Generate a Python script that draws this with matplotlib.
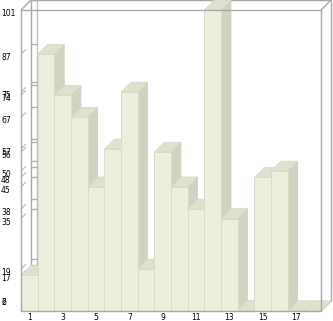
import matplotlib
matplotlib.use("Agg")
import matplotlib.pyplot as plt
from matplotlib import transforms

# data
categories = list(range(1, 19))
values = [17, 87, 74, 67, 45, 57, 75, 19, 56, 45, 38, 101, 35, 6, 48, 50, 2, 2]
tick_values = [101, 87, 75, 74, 67, 57, 56, 50, 48, 45, 38, 35, 19, 17, 6, 2]
tick_labels = [str(v) for v in tick_values]
x_ticks = [1, 3, 5, 7, 9, 11, 13, 15, 17]

YMIN, YMAX = 5.75, 101

W, H = 333, 321
fig = plt.figure(figsize=(W / 100, H / 100), dpi=100)
fig.patch.set_facecolor("white")
ax = fig.add_axes([21 / W, 10 / H, 300 / W, 301 / H])
ax.set_xlim(0.5, 18.5)
ax.set_ylim(YMIN, YMAX)
ax.set_facecolor("none")
for s in ax.spines.values():
    s.set_visible(False)

# 3d depth, 10 px each way, in data units
dx = 18 / 300 * 10
dy = (YMAX - YMIN) / 301 * 10

frame = "#a8a8a8"
front_c = "#eeeedf"
top_c = "#e0e0cf"
side_c = "#d2d2c1"
edge_c = "#dadac9"

x0, x1 = 0.5, 18.5

def line(xs, ys, z=1, c=frame, lw=1.0):
    ax.plot(xs, ys, color=c, lw=lw, zorder=z, clip_on=False, solid_capstyle="butt")

# back wall
line([x0 + dx, x1 + dx, x1 + dx, x0 + dx, x0 + dx],
     [YMIN + dy, YMIN + dy, YMAX + dy, YMAX + dy, YMIN + dy])
# corner diagonals
line([x0, x0 + dx], [YMAX, YMAX + dy])
line([x1, x1 + dx], [YMAX, YMAX + dy])
line([x1, x1 + dx], [YMIN, YMIN + dy])
line([x0, x0 + dx], [YMIN, YMIN + dy])

# ruler on the back wall
rx = x0 + dx + 0.36
line([rx, rx], [YMIN + dy, YMAX + dy], c="#c0c0c0")
for v in tick_values:
    if v <= YMIN:
        continue
    line([x0 + dx, rx], [v + dy, v + dy], c="#b0b0b0")
    line([x0, x0 + dx * 0.5], [v, v + dy * 0.5], c="#b8b8b8", lw=0.8)

# bars, left to right so the painter order works
for i, (c, v) in enumerate(zip(categories, values)):
    h = max(v, YMIN)
    l, r = c - 0.5, c + 0.5
    z = 3 + i * 0.01
    ax.fill([r, r + dx, r + dx, r], [YMIN, YMIN + dy, h + dy, h],
            color=side_c, ec=side_c, lw=0.5, zorder=z, clip_on=False)
    ax.fill([l, r, r + dx, l + dx], [h, h, h + dy, h + dy],
            color=top_c, ec="#d8d8c7", lw=0.5, zorder=z, clip_on=False)
    if h > YMIN:
        ax.fill([l, r, r, l], [YMIN, YMIN, h, h],
                color=front_c, ec=edge_c, lw=0.7, zorder=z, clip_on=False)

# front frame on top
line([x0, x1, x1, x0, x0], [YMIN, YMIN, YMAX, YMAX, YMIN], z=5)

# y labels, left aligned at the figure edge
trans = transforms.blended_transform_factory(fig.transFigure, ax.transData)
trans = transforms.offset_copy(trans, fig=fig, y=-3.5, units="dots")
for v, lab in zip(tick_values, tick_labels):
    ax.text(1 / W, max(v, YMIN + 3.7), lab, transform=trans, ha="left",
            va="center", fontsize=5.5, color="black")

ax.set_xticks(x_ticks)
ax.set_xticklabels([str(t) for t in x_ticks], fontsize=5.5)
ax.tick_params(axis="x", length=0, pad=1.2)
ax.set_yticks([])

fig.savefig("out.png", dpi=100, facecolor="white")
